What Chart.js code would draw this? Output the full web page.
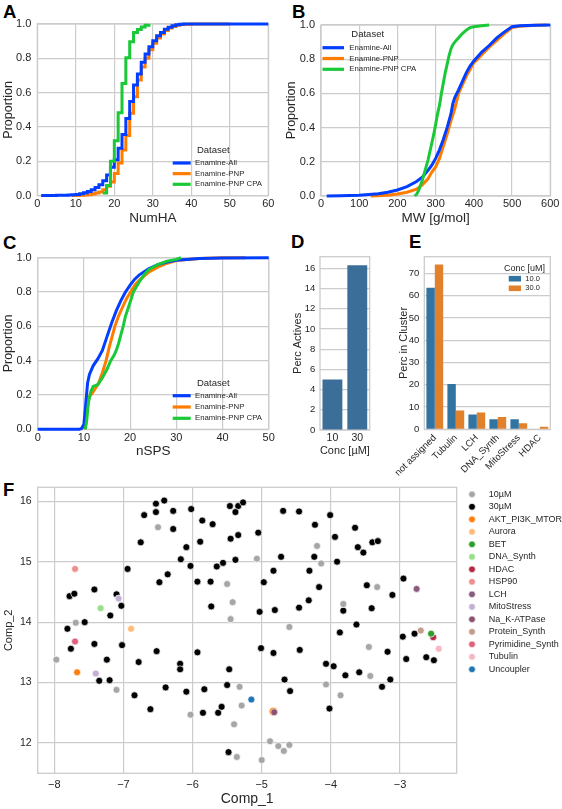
<!DOCTYPE html>
<html><head><meta charset="utf-8">
<script src="https://cdn.jsdelivr.net/npm/chart.js@4.4.0/dist/chart.umd.min.js"></script>
<style>
html,body{margin:0;padding:0;background:#fff;}
body{width:562px;height:809px;position:relative;overflow:hidden;font-family:"Liberation Sans",Arial,sans-serif;}
canvas{position:absolute;}
.lab{position:absolute;font-weight:bold;font-size:18.5px;line-height:18.5px;color:#000;}
</style></head><body>
<div class="lab" style="left:3px;top:2.6px">A</div>
<div class="lab" style="left:292px;top:2.6px">B</div>
<div class="lab" style="left:3px;top:234px">C</div>
<div class="lab" style="left:291px;top:232.5px">D</div>
<div class="lab" style="left:409px;top:232.5px">E</div>
<div class="lab" style="left:3px;top:481px">F</div>
<canvas id="cA"></canvas><canvas id="cB"></canvas><canvas id="cC"></canvas>
<canvas id="cD"></canvas><canvas id="cE"></canvas><canvas id="cF"></canvas>
<script>
// ---------------- DATA ----------------
const datasetNames = ['Enamine-All', 'Enamine-PNP', 'Enamine-PNP CPA'];
const proportionTicks = [0, 0.2, 0.4, 0.6, 0.8, 1.0];
const numhaTicks = [0, 10, 20, 30, 40, 50, 60];
const mwTicks = [0, 100, 200, 300, 400, 500, 600];
const nspsTicks = [0, 10, 20, 30, 40, 50];

// Panel A: ECDF of NumHA [value, proportion]
const numhaAll = [[1,0.0005],[2,0.001],[3,0.001],[4,0.0015],[5,0.002],[6,0.002],[7,0.003],[8,0.004],[9,0.005],[10,0.007],[11,0.011],[12,0.017],[13,0.025],[14,0.035],[15,0.048],[16,0.064],[17,0.087],[18,0.12],[19,0.165],[20,0.21],[21,0.276],[22,0.357],[23,0.45],[24,0.548],[25,0.645],[26,0.709],[27,0.777],[28,0.825],[29,0.868],[30,0.903],[31,0.932],[32,0.951],[33,0.969],[34,0.981],[35,0.99],[36,0.995],[37,0.998],[38,1.0],[60,1.0]];
const numhaPNP = [[9,0.0005],[10,0.001],[11,0.002],[12,0.004],[13,0.006],[14,0.01],[15,0.015],[16,0.022],[17,0.035],[18,0.055],[19,0.08],[20,0.13],[21,0.19],[22,0.266],[23,0.35],[24,0.48],[25,0.577],[26,0.674],[27,0.75],[28,0.8],[29,0.85],[30,0.888],[31,0.918],[32,0.942],[33,0.962],[34,0.976],[35,0.986],[36,0.993],[37,0.997],[38,0.999],[40,1.0],[50,1.0]];
const numhaCPA = [[17,0.015],[18,0.06],[19,0.2],[20,0.32],[21,0.483],[22,0.654],[23,0.804],[24,0.897],[25,0.951],[26,0.968],[27,0.982],[28,0.993],[29,1.0]];

// Panel B: ECDF of MW
const mwAll = [[15,0],[50,0.001],[100,0.004],[150,0.013],[175,0.022],[200,0.035],[225,0.055],[250,0.085],[265,0.11],[280,0.15],[290,0.18],[300,0.22],[310,0.27],[320,0.33],[330,0.4],[340,0.48],[345,0.54],[350,0.575],[360,0.62],[370,0.67],[380,0.72],[390,0.76],[400,0.79],[420,0.84],[440,0.88],[460,0.925],[480,0.96],[500,0.99],[520,0.995],[560,0.998],[600,1.0]];
const mwPNP = [[130,0],[175,0.005],[200,0.012],[225,0.022],[250,0.04],[265,0.065],[280,0.1],[290,0.14],[300,0.17],[310,0.22],[320,0.29],[330,0.36],[340,0.44],[350,0.51],[360,0.6],[370,0.65],[380,0.7],[390,0.74],[400,0.78],[410,0.8],[420,0.825],[440,0.87],[460,0.91],[480,0.95],[500,0.985],[520,0.993],[560,0.998],[590,1.0]];
const mwCPA = [[245,0],[250,0.01],[255,0.03],[260,0.06],[265,0.09],[270,0.13],[275,0.17],[280,0.21],[285,0.26],[290,0.31],[295,0.36],[300,0.42],[305,0.48],[310,0.53],[315,0.6],[320,0.66],[325,0.72],[330,0.77],[335,0.82],[340,0.86],[345,0.885],[350,0.9],[360,0.925],[370,0.95],[380,0.97],[390,0.985],[400,0.99],[420,0.996],[440,1.0]];

// Panel C: ECDF of nSPS
const nspsAll = [[0,0],[9,0],[9.5,0.005],[10,0.03],[10.4,0.15],[10.8,0.27],[11.2,0.32],[12,0.37],[13,0.41],[14,0.46],[15,0.54],[16,0.62],[17,0.69],[18,0.75],[19,0.8],[20,0.84],[21,0.875],[22,0.9],[24,0.935],[26,0.96],[28,0.975],[30,0.985],[35,0.995],[40,0.998],[50,1.0]];
const nspsPNP = [[10,0],[10.3,0.02],[10.7,0.12],[11.1,0.19],[11.8,0.21],[12.5,0.24],[13.2,0.27],[14,0.33],[14.8,0.4],[15.5,0.48],[16,0.53],[16.7,0.6],[17.5,0.66],[18.5,0.72],[19.2,0.76],[20.1,0.8],[21,0.84],[22,0.87],[24,0.915],[26,0.945],[28,0.968],[30,0.984],[35,0.995],[40,0.999],[45,1.0]];
const nspsCPA = [[10.3,0],[10.6,0.05],[11,0.16],[11.5,0.22],[12,0.25],[13,0.26],[14,0.3],[15,0.35],[15.8,0.4],[16.5,0.43],[17,0.46],[17.5,0.5],[18,0.55],[18.5,0.6],[19,0.66],[19.5,0.7],[20,0.74],[20.7,0.8],[22,0.86],[23,0.9],[24,0.93],[26,0.96],[28,0.98],[30,0.99],[31,1.0]];

// Panel D
const concLabels = ['10', '30'];
const percActives = [5.0, 16.3];
const percActivesTicks = [0, 2, 4, 6, 8, 10, 12, 14, 16];

// Panel E
const clusterLabels = ['not assigned', 'Tubulin', 'LCH', 'DNA_Synth', 'MitoStress', 'HDAC'];
const concSeries = ['10.0', '30.0'];
const percCluster10 = [63.6, 20.4, 6.7, 4.5, 4.5, 0];
const percCluster30 = [74.1, 8.4, 7.6, 5.5, 2.7, 1.2];
const percClusterTicks = [0, 10, 20, 30, 40, 50, 60, 70];

// Panel F: [Comp_1, Comp_2]
const comp1Ticks = [-8, -7, -6, -5, -4, -3];
const comp2Ticks = [12, 13, 14, 15, 16];
const pts10uM = [[-6.50,15.57],[-5.07,15.05],[-5.50,14.63],[-5.42,14.33],[-5.45,14.05],[-7.69,13.99],[-7.97,13.38],[-7.10,12.88],[-6.03,12.47],[-5.32,12.93],[-5.29,12.62],[-5.40,12.31],[-5.36,11.77],[-5.00,11.72],[-4.88,12.03],[-4.76,11.95],[-4.68,11.87],[-4.60,11.97],[-4.20,15.26],[-4.14,14.97],[-3.82,14.30],[-3.33,14.58],[-4.60,13.92],[-3.45,13.59],[-3.43,13.11],[-4.07,12.97],[-3.86,12.79]];
const pts30uM = [[-6.53,15.96],[-6.41,16.01],[-6.53,15.82],[-6.70,15.77],[-6.28,15.84],[-6.28,15.54],[-6.75,15.32],[-6.02,15.87],[-5.86,15.68],[-5.71,15.62],[-6.09,15.24],[-5.89,15.33],[-5.46,15.92],[-5.34,15.92],[-5.27,15.98],[-5.38,15.82],[-5.05,15.48],[-5.34,15.44],[-5.45,15.38],[-6.17,15.04],[-6.03,14.93],[-5.65,14.92],[-5.56,14.98],[-5.38,15.03],[-4.72,15.08],[-6.94,14.88],[-6.36,14.79],[-6.48,14.66],[-7.42,14.54],[-7.78,14.43],[-7.71,14.47],[-7.10,14.46],[-7.03,14.27],[-7.19,14.11],[-7.56,14.00],[-7.81,13.89],[-5.93,14.67],[-5.74,14.67],[-5.73,14.26],[-4.83,14.85],[-4.97,14.66],[-5.03,14.17],[-4.81,14.20],
[-4.69,15.84],[-4.46,15.83],[-4.01,15.77],[-4.23,15.61],[-3.65,15.56],[-3.94,15.41],[-3.61,15.24],[-3.53,15.15],[-3.40,15.32],[-3.32,15.34],[-4.24,15.08],[-3.91,15.00],[-4.31,14.85],[-4.17,14.58],[-4.32,14.36],[-4.46,14.24],[-3.82,14.19],[-3.48,14.61],[-3.11,14.45],[-2.95,14.72],[-3.41,14.23],
[-3.63,13.96],[-3.87,13.83],[-2.96,13.76],[-2.79,13.81],[-2.91,13.39],[-2.62,13.42],[-2.51,13.37],[-5.01,13.57],[-4.83,13.49],[-4.45,13.54],[-3.18,13.51],[-4.07,13.31],[-3.96,13.27],[-3.79,13.12],[-3.59,13.17],[-3.14,13.05],[-3.26,12.93],[-4.67,13.05],[-4.59,12.86],[-4.02,12.57],
[-7.42,13.64],[-7.02,13.62],[-7.76,13.56],[-7.24,13.38],[-6.52,13.52],[-5.93,13.50],[-6.78,13.34],[-6.18,13.31],[-6.18,13.22],[-7.35,13.03],[-7.20,13.04],[-6.84,12.79],[-6.39,12.92],[-6.09,12.85],[-5.83,12.89],[-6.61,12.56],[-5.85,12.50],[-5.63,12.50],[-5.58,12.60],[-5.50,12.96],[-5.47,13.22],[-5.48,11.85]];
const ptsAKT = [[-7.67,13.17],[-4.83,12.52]];
const ptsAurora = [[-6.89,13.89]];
const ptsBET = [[-2.55,13.81]];
const ptsDNASynth = [[-7.33,14.23]];
const ptsHDAC = [[-2.52,13.75]];
const ptsHSP90 = [[-7.70,14.88]];
const ptsLCH = [[-2.76,14.55]];
const ptsMitoStress = [[-7.07,14.39],[-7.40,13.15]];
const ptsNaK = [[-4.82,12.51]];
const ptsProteinSynth = [[-2.70,13.86]];
const ptsPyrimidine = [[-7.70,13.68]];
const ptsTubulin = [[-2.44,13.56]];
const ptsUncoupler = [[-5.15,12.72]];
const scatterNames = ['10µM','30µM','AKT_PI3K_MTOR','Aurora','BET','DNA_Synth','HDAC','HSP90','LCH','MitoStress','Na_K-ATPase','Protein_Synth','Pyrimidine_Synth','Tubulin','Uncoupler'];
const scatterSets = [pts10uM, pts30uM, ptsAKT, ptsAurora, ptsBET, ptsDNASynth, ptsHDAC, ptsHSP90, ptsLCH, ptsMitoStress, ptsNaK, ptsProteinSynth, ptsPyrimidine, ptsTubulin, ptsUncoupler];

// ---------------- STYLE ----------------
const FONT = '"Liberation Sans", Arial, sans-serif';
const TXT = '#262626', GRID = '#cccccc';
const ECDF_COLORS = ['#023eff', '#ff7c00', '#1ac938'];
const scatterColors = ['#a6a6a6','#000000','#ff7f0e','#ffbb78','#2ca02c','#98df8a','#b22a44','#ee8f8f','#8a5d7e','#c5b0d5','#8c5270','#c49c8a','#e0637c','#f4b8c4','#1f77b4'];
const scatterOrder = [3, 3, 2, 1, 1, 1, 1, 1, 1, 1, 1, 1, 1, 1, 1];
Chart.defaults.font.family = FONT;
Chart.defaults.color = TXT;
Chart.defaults.animation = false;
Chart.defaults.plugins.legend.display = false;
Chart.defaults.plugins.tooltip.enabled = false;

const framePlugin = {
  id: 'frame',
  beforeDatasetsDraw(chart) {
    const a = chart.chartArea, c = chart.ctx;
    c.save(); c.strokeStyle = GRID; c.lineWidth = 1.3;
    c.strokeRect(a.left, a.top, a.right - a.left, a.bottom - a.top);
    c.restore();
  }
};
const boxLegend = {
  id: 'boxLegend',
  afterDraw(chart, args, o) {
    if (!o || !o.rows) return;
    const c = chart.ctx, ox = o.ox, oy = o.oy;
    c.save();
    c.fillStyle = TXT; c.textBaseline = 'middle';
    if (o.title) {
      c.font = o.titleSize + 'px ' + FONT; c.textAlign = 'center';
      c.fillText(o.title, o.titleX - ox, o.titleY - oy);
    }
    c.font = o.size + 'px ' + FONT; c.textAlign = 'left';
    chart.data.datasets.forEach((ds, i) => {
      const y = o.rows[0] + i * o.step - oy;
      if (o.kind === 'line') {
        c.strokeStyle = ds.borderColor; c.lineWidth = 3.2;
        c.beginPath(); c.moveTo(o.x1 - ox, y); c.lineTo(o.x2 - ox, y); c.stroke();
      } else if (o.kind === 'rect') {
        c.fillStyle = ds.backgroundColor; c.fillRect(o.x1 - ox, y - 2.8, o.x2 - o.x1, 5.6);
      } else {
        c.fillStyle = ds.backgroundColor; c.strokeStyle = '#fff'; c.lineWidth = 0.7;
        c.beginPath(); c.arc(o.x1 - ox, y, 3.4, 0, Math.PI * 2); c.fill(); c.stroke();
      }
      c.fillStyle = TXT;
      c.fillText(ds.label, o.tx - ox, y);
    });
    c.restore();
  }
};

function place(id, r) {
  const cv = document.getElementById(id);
  cv.width = r.w; cv.height = r.h;
  cv.style.left = r.x + 'px'; cv.style.top = r.y + 'px';
  cv.style.width = r.w + 'px'; cv.style.height = r.h + 'px';
  return cv;
}
// compute layout paddings so that the chart area lands on the target box
function geom(r, area, yTitleCx, yTitleSize, xTitleCy, xTitleSize) {
  const pl = yTitleCx - r.x - yTitleSize * 1.2 / 2;
  const wy = area.l - r.x - pl;
  const pr = r.x + r.w - area.r;
  const pt = area.t - r.y;
  let hx, pb;
  if (xTitleCy != null) {
    const sb = xTitleCy + xTitleSize * 1.2 / 2;
    hx = sb - area.b; pb = r.y + r.h - sb;
  } else { hx = r.y + r.h - area.b; pb = 0; }
  return { padding: { left: pl, right: pr, top: pt, bottom: pb }, wy, hx };
}
function fixer(size, isX) {
  return function (s) {
    if (isX) s.height = size; else s.width = size;
    s.paddingLeft = 0; s.paddingRight = 0; s.paddingTop = 0; s.paddingBottom = 0;
  };
}
function linAxis(o) {
  return {
    type: 'linear', min: o.min, max: o.max,
    grid: { display: o.grid !== false, color: GRID, lineWidth: 1.2, drawTicks: false },
    border: { display: false },
    ticks: { color: TXT, font: { size: o.tickSize }, padding: o.pad, autoSkip: false, maxRotation: 0,
             callback: o.fmt },
    afterBuildTicks(s) { s.ticks = o.ticks.map(v => ({ value: v })); },
    title: o.title ? { display: true, text: o.title, color: TXT, font: { size: o.titleSize }, padding: 0 } : { display: false },
    afterFit: fixer(o.fit, o.isX)
  };
}
const fmt1 = v => Number(v).toFixed(1);
const fmt0 = v => String(v);
const fmtMinus = v => (v < 0 ? '\u2212' + Math.abs(v) : String(v));

function ecdfChart(id, r, area, series, xTicks, xMax, xTitle, yTitleCx, xTitleCy, leg, xPad) {
  const g = geom(r, area, yTitleCx, 12.5, xTitleCy, 13.5);
  const order = [1, 2, 0]; // blue drawn on top
  new Chart(place(id, r), {
    type: 'line',
    data: {
      datasets: series.map((s, i) => ({
        label: datasetNames[i], data: s.pts.map(p => ({ x: p[0], y: p[1] })),
        borderColor: ECDF_COLORS[i], backgroundColor: ECDF_COLORS[i], borderWidth: 3,
        pointRadius: 0, stepped: s.stepped ? 'before' : false, tension: 0, fill: false,
        clip: false, order: order[i]
      }))
    },
    options: {
      responsive: false, parsing: true,
      layout: { padding: g.padding },
      scales: {
        x: linAxis({ min: 0, max: xMax, ticks: xTicks, fmt: fmt0, tickSize: 11, pad: xPad, title: xTitle, titleSize: 13.5, fit: g.hx, isX: true }),
        y: linAxis({ min: 0, max: 1, ticks: proportionTicks, fmt: fmt1, tickSize: 11, pad: 6, title: 'Proportion', titleSize: 12.5, fit: g.wy, isX: false })
      },
      plugins: { boxLegend: Object.assign({ ox: r.x, oy: r.y, kind: 'line', title: 'Dataset', titleSize: 9.5, size: 7.8 }, leg) }
    },
    plugins: [framePlugin, boxLegend]
  });
}

// ---- A ----
ecdfChart('cA', { x: 0, y: 0, w: 281, h: 232 }, { l: 37.3, r: 268.3, t: 24, b: 195.7 },
  [{ pts: numhaAll, stepped: true }, { pts: numhaPNP, stepped: true }, { pts: numhaCPA, stepped: true }],
  numhaTicks, 60, 'NumHA', 8.3, 218,
  { titleX: 213.3, titleY: 150, x1: 172.7, x2: 190.7, tx: 195, rows: [163], step: 10.65 }, 2);
// ---- B ----
ecdfChart('cB', { x: 281, y: 0, w: 281, h: 232 }, { l: 321, r: 550.3, t: 25, b: 196 },
  [{ pts: mwAll }, { pts: mwPNP }, { pts: mwCPA }],
  mwTicks, 600, 'MW [g/mol]', 291.5, 218,
  { titleX: 367.7, titleY: 34.3, x1: 322.5, x2: 344, tx: 349.3, rows: [47.7], step: 10.8 }, 1.5);
// ---- C ----
ecdfChart('cC', { x: 0, y: 232, w: 281, h: 235 }, { l: 37.7, r: 268.7, t: 257.7, b: 429.3 },
  [{ pts: nspsAll }, { pts: nspsPNP }, { pts: nspsCPA }],
  nspsTicks, 50, 'nSPS', 8.3, 451.5,
  { titleX: 213.3, titleY: 383.3, x1: 172.7, x2: 190.7, tx: 195, rows: [395.7], step: 11.3 }, 2.5);

// ---- D ----
(function () {
  const r = { x: 285, y: 232, w: 90, h: 232 };
  const g = geom(r, { l: 320, r: 369.7, t: 256.7, b: 430 }, 297.7, 11, 451, 11);
  new Chart(place('cD', r), {
    type: 'bar',
    data: { labels: concLabels, datasets: [{ label: 'Perc Actives', data: percActives, backgroundColor: '#3b6f99', borderWidth: 0, categoryPercentage: 0.8, barPercentage: 1.0 }] },
    options: {
      responsive: false, layout: { padding: g.padding },
      scales: {
        x: { type: 'category', grid: { display: false, drawTicks: false }, border: { display: false },
             ticks: { color: TXT, font: { size: 10.5 }, padding: 2.3, maxRotation: 0 },
             title: { display: true, text: 'Conc [µM]', color: TXT, font: { size: 11 }, padding: 0 },
             afterFit: fixer(g.hx, true) },
        y: linAxis({ min: 0, max: 17.15, ticks: percActivesTicks, fmt: fmt0, tickSize: 9.5, pad: 4.7, title: 'Perc Actives', titleSize: 11, fit: g.wy, isX: false })
      }
    },
    plugins: [framePlugin]
  });
})();

// ---- E ----
(function () {
  const r = { x: 390, y: 232, w: 172, h: 250 };
  const g = geom(r, { l: 424.3, r: 550.3, t: 256.7, b: 429.3 }, 404.3, 11, null, 11);
  new Chart(place('cE', r), {
    type: 'bar',
    data: { labels: clusterLabels, datasets: [
      { label: concSeries[0], data: percCluster10, backgroundColor: '#3274a1', borderWidth: 0, categoryPercentage: 0.8, barPercentage: 1.0 },
      { label: concSeries[1], data: percCluster30, backgroundColor: '#e1812c', borderWidth: 0, categoryPercentage: 0.8, barPercentage: 1.0 }
    ] },
    options: {
      responsive: false, layout: { padding: g.padding },
      scales: {
        x: { type: 'category', grid: { display: false, drawTicks: false }, border: { display: false },
             ticks: { color: TXT, font: { size: 9.5 }, padding: 3, minRotation: 45, maxRotation: 45, autoSkip: false },
             afterFit: fixer(g.hx, true) },
        y: linAxis({ min: 0, max: 77.6, ticks: percClusterTicks, fmt: fmt0, tickSize: 9.5, pad: 5, title: 'Perc in Cluster', titleSize: 11, fit: g.wy, isX: false })
      },
      plugins: { boxLegend: { ox: r.x, oy: r.y, kind: 'rect', title: 'Conc [uM]', titleSize: 9, size: 7.5, titleX: 524.5, titleY: 268.7, x1: 508.7, x2: 521, tx: 525.3, rows: [278.7], step: 9.6 } }
    },
    plugins: [framePlugin, boxLegend]
  });
})();

// ---- F ----
(function () {
  const r = { x: 0, y: 470, w: 562, h: 339 };
  const g = geom(r, { l: 37.7, r: 456.7, t: 487.3, b: 773.3 }, 9.2, 11, 799, 14);
  new Chart(place('cF', r), {
    type: 'scatter',
    data: { datasets: scatterSets.map((pts, i) => ({
      label: scatterNames[i], data: pts.map(p => ({ x: p[0], y: p[1] })),
      backgroundColor: scatterColors[i], borderColor: '#ffffff', borderWidth: 0.7,
      pointRadius: i === 2 ? [3.5, 4.4] : 3.5, pointHoverRadius: 3.5, order: scatterOrder[i]
    })) },
    options: {
      responsive: false, layout: { padding: g.padding },
      scales: {
        x: linAxis({ min: -8.24, max: -2.18, ticks: comp1Ticks, fmt: fmtMinus, tickSize: 11, pad: 5, title: 'Comp_1', titleSize: 14, fit: g.hx, isX: true }),
        y: linAxis({ min: 11.5, max: 16.23, ticks: comp2Ticks, fmt: fmt0, tickSize: 10.5, pad: 6, title: 'Comp_2', titleSize: 11, fit: g.wy, isX: false })
      },
      plugins: { boxLegend: { ox: r.x, oy: r.y, kind: 'point', size: 9, x1: 472, tx: 488.7, rows: [494.3], step: 12.5 } }
    },
    plugins: [framePlugin, boxLegend]
  });
})();
</script>
</body></html>
